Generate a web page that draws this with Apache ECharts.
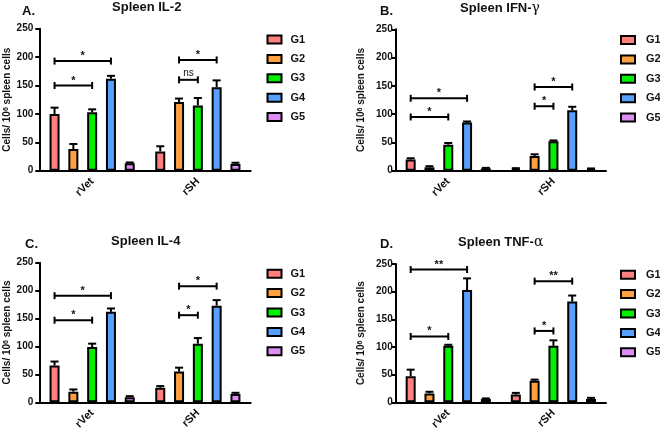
<!DOCTYPE html>
<html>
<head>
<meta charset="utf-8">
<script src="https://cdn.jsdelivr.net/npm/echarts@6/dist/echarts.min.js"></script>
<style>html,body{margin:0;padding:0;background:#fff}#c{width:660px;height:432px}</style>
</head>
<body>
<div id="c"></div>
<script>
// ---------- data ----------
const categories = ['rVet', 'rSH'];
const groups = ['G1', 'G2', 'G3', 'G4', 'G5'];
const groupColors = ['#FF7F7F', '#FFA040', '#00F000', '#56A0FF', '#DC8CF2'];
const yTicks = { min: 0, max: 250, interval: 50 };

const titlesText = ['Spleen IL-2', 'Spleen IFN-{g|γ}', 'Spleen IL-4', 'Spleen TNF-{g|α}'];
const panelLetters = ['A.', 'B.', 'C.', 'D.'];

// values per panel: [group][category]
const il2Values   = [[100, 34], [38, 121], [103, 115], [162, 147], [13, 12]];
const il2Err      = [[11, 9], [9, 6], [5, 13], [5, 12], [1.5, 2]];
const ifngValues  = [[20, 3], [6, 26], [46, 52], [85, 107], [4, 3]];
const ifngErr     = [[2, 1.5], [2, 3], [3, 1.5], [2, 6], [1, 1]];
const il4Values   = [[66, 26], [19, 55], [99, 105], [162, 173], [9, 15]];
const il4Err      = [[7, 3], [4, 7], [6, 10], [6, 10], [2, 2]];
const tnfValues   = [[47, 14], [16, 39], [102, 102], [203, 182], [6, 6]];
const tnfErr      = [[12, 3], [3, 2], [2, 10], [21, 11], [1, 2]];

// significance brackets: [categoryIndex, fromGroup, toGroup, yValue, label]
const il2Brackets  = [[0, 0, 3, 193, '*'], [0, 0, 2, 150, '*'], [1, 1, 3, 195, '*'], [1, 1, 2, 160, 'ns']];
const ifngBrackets = [[0, 0, 3, 128, '*'], [0, 0, 2, 95, '*'], [1, 1, 3, 148, '*'], [1, 1, 2, 114, '*']];
const il4Brackets  = [[0, 0, 3, 191, '*'], [0, 0, 2, 147, '*'], [1, 1, 3, 208, '*'], [1, 1, 2, 156, '*']];
const tnfBrackets  = [[0, 0, 3, 240, '**'], [0, 0, 2, 119, '*'], [1, 1, 3, 219, '**'], [1, 1, 2, 129, '*']];

const panelValues = [il2Values, ifngValues, il4Values, tnfValues];
const panelErrors = [il2Err, ifngErr, il4Err, tnfErr];
const panelBrackets = [il2Brackets, ifngBrackets, il4Brackets, tnfBrackets];

// ---------- layout / style ----------
const FONT = 'Arial, "Liberation Sans", Helvetica, sans-serif';
const BAR_W = 10, BAR_GAP = 0.88;
const PITCH = BAR_W * (1 + BAR_GAP);
const CAP = 4;
const grids = [
  { left: 39.3, top: 28.7, width: 211.4, height: 142 },
  { left: 395.7, top: 29.3, width: 210.3, height: 141.4 },
  { left: 39.3, top: 262.7, width: 211.4, height: 141.6 },
  { left: 395.7, top: 264, width: 210.3, height: 141 }
];
const titlePos = [[146.7, 1], [500, 1], [145.7, 235], [500.7, 235]];
const letterPos = [[22, 5], [380, 5], [25, 238], [380, 238]];
const legendPos = [[266.5, 33.5], [620, 34], [266.5, 267.7], [620, 268.7]];
const legendTextPad = [4, 6, 4, 6];
const nameGaps = [26, 28.5, 26, 28.5];
const labelMargins = [6, 3, 6, 3];

const offsetOf = g => (g - (groups.length - 1) / 2) * PITCH;

const option = {
  animation: false,
  backgroundColor: '#fff',
  title: [],
  legend: [],
  grid: grids.map(g => Object.assign({ containLabel: false }, g)),
  xAxis: [],
  yAxis: [],
  series: []
};

for (let p = 0; p < 4; p++) {
  option.title.push({
    text: titlesText[p], left: titlePos[p][0], top: titlePos[p][1], textAlign: 'center', padding: 0,
    textStyle: { fontFamily: FONT, fontSize: 13, fontWeight: 'bold', color: '#111',
      rich: { g: { fontFamily: '"DejaVu Serif", "Liberation Serif", serif', fontSize: 14, fontWeight: 'normal', color: '#111' } } }
  });
  option.title.push({
    text: panelLetters[p], left: letterPos[p][0], top: letterPos[p][1], padding: 0,
    textStyle: { fontFamily: FONT, fontSize: 13, fontWeight: 'bold', color: '#111' }
  });
  option.legend.push({
    data: groups, orient: 'vertical', left: legendPos[p][0], top: legendPos[p][1], padding: 0,
    itemWidth: 14, itemHeight: 8, itemGap: 7.4, icon: 'rect',
    itemStyle: { borderColor: '#000', borderWidth: 2 },
    textStyle: { fontFamily: FONT, fontSize: 11, fontWeight: 'bold', color: '#111', lineHeight: 12, padding: [0, 0, 0, legendTextPad[p]] }
  });
  option.xAxis.push({
    type: 'category', gridIndex: p, data: categories,
    axisLine: { lineStyle: { color: '#000', width: 2 } },
    axisTick: { alignWithLabel: true, length: 4, lineStyle: { color: '#000', width: 2 } },
    axisLabel: { rotate: 45, margin: 9, fontFamily: FONT, fontSize: 11, fontWeight: 'bold', color: '#111' },
    splitLine: { show: false }
  });
  option.yAxis.push({
    type: 'value', gridIndex: p, min: yTicks.min, max: yTicks.max, interval: yTicks.interval,
    name: '{a|Cells/ 10}{s|6}{a| spleen cells}', nameLocation: 'middle', nameRotate: 90, nameGap: nameGaps[p],
    nameTextStyle: { rich: {
      a: { fontFamily: FONT, fontSize: 10, fontWeight: 'bold', color: '#111' },
      s: { fontFamily: FONT, fontSize: 7, fontWeight: 'bold', color: '#111', verticalAlign: 'top', padding: [0, 0, 4, 0] }
    } },
    axisLine: { show: true, lineStyle: { color: '#000', width: 2 } },
    axisTick: { show: true, length: 4, lineStyle: { color: '#000', width: 2 } },
    axisLabel: { margin: labelMargins[p], fontFamily: FONT, fontSize: 10, fontWeight: 'bold', color: '#111' },
    splitLine: { show: false }
  });
  groups.forEach((g, gi) => {
    option.series.push({
      type: 'bar', name: g, xAxisIndex: p, yAxisIndex: p,
      data: panelValues[p][gi], barWidth: BAR_W, barGap: (BAR_GAP * 100) + '%',
      itemStyle: { color: groupColors[gi], borderColor: '#000', borderWidth: 2 },
      z: 2
    });
  });
  const errData = [];
  groups.forEach((g, gi) => categories.forEach((c, ci) => {
    errData.push([ci, gi, panelValues[p][gi][ci], panelErrors[p][gi][ci]]);
  }));
  option.series.push({
    type: 'custom', name: 'err' + p, xAxisIndex: p, yAxisIndex: p, z: 3,
    encode: { x: 0, y: 2 }, data: errData,
    renderItem: (params, api) => {
      const ci = api.value(0), gi = api.value(1), v = api.value(2), e = api.value(3);
      const a = api.coord([ci, v]), b = api.coord([ci, v + e]);
      const x = a[0] + offsetOf(gi);
      return { type: 'group', children: [
        { type: 'line', shape: { x1: x, y1: a[1], x2: x, y2: b[1] }, style: { stroke: '#000', lineWidth: 2 } },
        { type: 'line', shape: { x1: x - CAP, y1: b[1], x2: x + CAP, y2: b[1] }, style: { stroke: '#000', lineWidth: 2 } }
      ] };
    }
  });
  option.series.push({
    type: 'custom', name: 'sig' + p, xAxisIndex: p, yAxisIndex: p, z: 4,
    encode: { x: 0, y: 3 }, data: panelBrackets[p],
    renderItem: (params, api) => {
      const ci = api.value(0), g1 = api.value(1), g2 = api.value(2), y = api.value(3);
      const lbl = panelBrackets[p][params.dataIndex][4];
      const c = api.coord([ci, y]);
      const x1 = c[0] + offsetOf(g1), x2 = c[0] + offsetOf(g2), yy = c[1];
      const isStar = lbl.indexOf('*') >= 0;
      return { type: 'group', children: [
        { type: 'line', shape: { x1: x1, y1: yy, x2: x2, y2: yy }, style: { stroke: '#000', lineWidth: 2 } },
        { type: 'line', shape: { x1: x1, y1: yy - 3.5, x2: x1, y2: yy + 3.5 }, style: { stroke: '#000', lineWidth: 2 } },
        { type: 'line', shape: { x1: x2, y1: yy - 3.5, x2: x2, y2: yy + 3.5 }, style: { stroke: '#000', lineWidth: 2 } },
        { type: 'text', x: (x1 + x2) / 2, y: isStar ? yy - 5 : yy - 7,
          style: { text: lbl, align: 'center', verticalAlign: 'middle', fontFamily: FONT,
            fontSize: isStar ? 11 : 10, fontWeight: isStar ? 'bold' : 'normal', fill: '#111' } }
      ] };
    }
  });
}

const chart = echarts.init(document.getElementById('c'), null, { renderer: 'canvas' });
chart.setOption(option);
</script>
</body>
</html>
